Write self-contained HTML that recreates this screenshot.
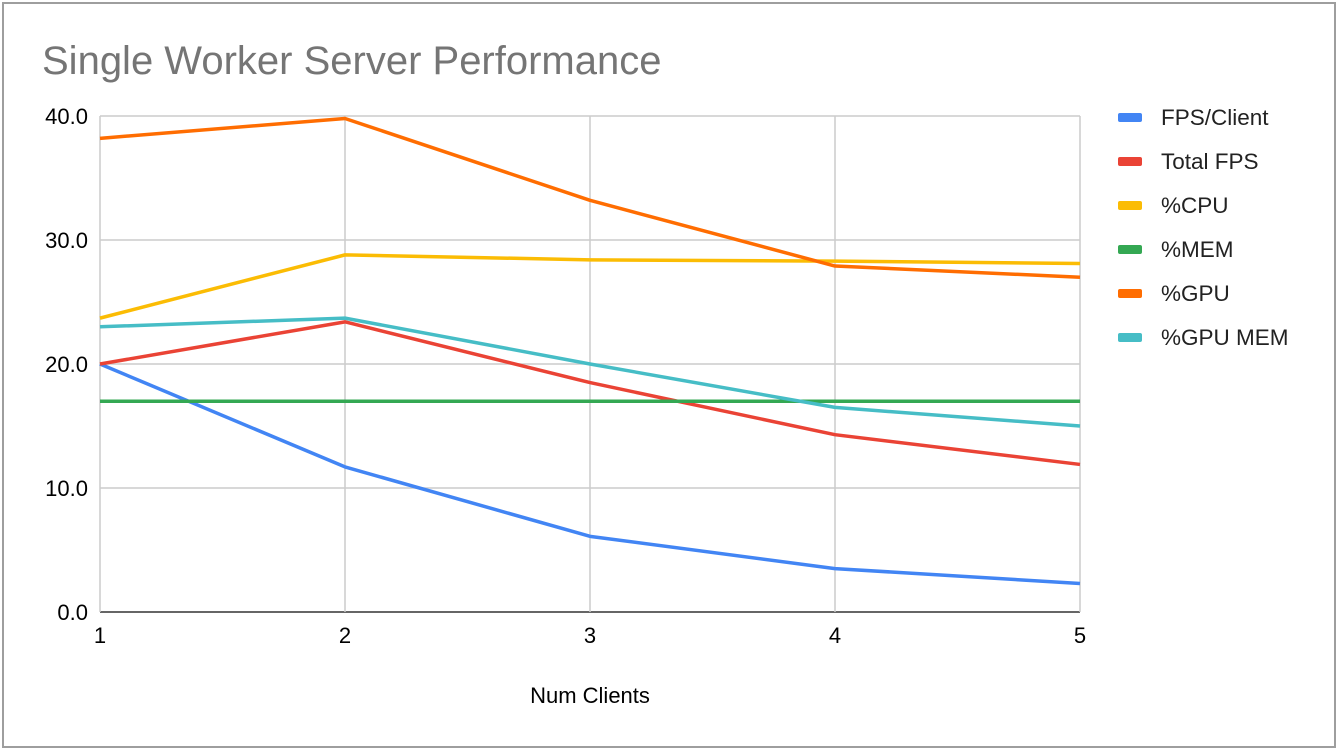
<!DOCTYPE html>
<html><head><meta charset="utf-8"><style>
html,body{margin:0;padding:0;background:#fff;}
svg{display:block;font-family:"Liberation Sans",Arial,sans-serif;}
</style></head><body>
<svg id="chart" width="1338" height="750">
<rect x="3" y="3" width="1332" height="744" fill="#fff" stroke="#9e9e9e" stroke-width="2"/>
<text x="42" y="74" font-size="40" fill="#757575">Single Worker Server Performance</text>
<g id="grid"></g><g id="series"></g><g id="axes"></g><g id="legend"></g>
<text x="590" y="703" font-size="22" text-anchor="middle" fill="#000">Num Clients</text>
</svg>
<script>
const categories = [1, 2, 3, 4, 5];
const yTicks = [0, 10, 20, 30, 40];
const seriesNames = ["FPS/Client", "Total FPS", "%CPU", "%MEM", "%GPU", "%GPU MEM"];
const seriesColors = ["#4285f4", "#ea4335", "#fbbc04", "#34a853", "#ff6d01", "#46bdc6"];
const fpsClient = [20.0, 11.7, 6.1, 3.5, 2.3];
const totalFps = [20.0, 23.4, 18.5, 14.3, 11.9];
const cpu = [23.7, 28.8, 28.4, 28.3, 28.1];
const mem = [17.0, 17.0, 17.0, 17.0, 17.0];
const gpu = [38.2, 39.8, 33.2, 27.9, 27.0];
const gpuMem = [23.0, 23.7, 20.0, 16.5, 15.0];
const allSeries = [fpsClient, totalFps, cpu, mem, gpu, gpuMem];

const NS = "http://www.w3.org/2000/svg";
const X0 = 100, X1 = 1080, Y0 = 612, Y1 = 116;
const xs = i => X0 + (X1 - X0) * i / (categories.length - 1);
const ys = v => Y0 - (Y0 - Y1) * v / 40;
function mk(tag, attrs, parent) {
  const e = document.createElementNS(NS, tag);
  for (const k in attrs) e.setAttribute(k, attrs[k]);
  parent.appendChild(e); return e;
}
const grid = document.getElementById('grid'), ser = document.getElementById('series'),
      axes = document.getElementById('axes'), leg = document.getElementById('legend');
yTicks.forEach(t => {
  const l = mk('line', {x1: X0, x2: X1, y1: ys(t), y2: ys(t), stroke: t === 0 ? '#333' : '#ccc', 'stroke-width': 1.5}, grid);
  
  
  const tx = mk('text', {x: 88, y: ys(t) + 8, 'font-size': 22, 'text-anchor': 'end', fill: '#000'}, axes);
  tx.textContent = t.toFixed(1);
  
  
});
categories.forEach((c, i) => {
  const l = mk('line', {x1: xs(i), x2: xs(i), y1: Y1, y2: Y0, stroke: '#ccc', 'stroke-width': 1.5}, grid);
  
  
  const tx = mk('text', {x: xs(i), y: 643, 'font-size': 22, 'text-anchor': 'middle', fill: '#000'}, axes);
  tx.textContent = c;
  
  
});
allSeries.forEach((vals, s) => {
  const p = mk('polyline', {points: vals.map((v, i) => xs(i) + ',' + ys(v)).join(' '), fill: 'none', stroke: seriesColors[s], 'stroke-width': 3.5, 'stroke-linejoin': 'round'}, ser);
  
  
  const y = 117 + s * 44;
  const r = mk('rect', {x: 1118, y: y - 4, width: 24, height: 9, rx: 2, fill: seriesColors[s]}, leg);
  
  
  const t = mk('text', {x: 1161, y: y + 8, 'font-size': 22.5, fill: '#222'}, leg);
  t.textContent = seriesNames[s];
  
  
});
</script>
</body></html>
